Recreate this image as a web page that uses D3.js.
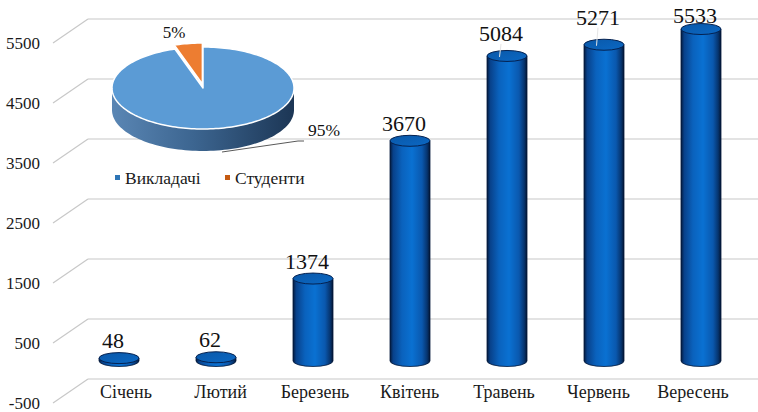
<!DOCTYPE html>
<html><head><meta charset="utf-8">
<script src="https://cdn.jsdelivr.net/npm/d3@7"></script>
</head>
<body style="margin:0;padding:0;background:#fff"><svg id="c" width="758" height="412" style="display:block"></svg>
<script>
// ---- data ----
const categories = ["Січень","Лютий","Березень","Квітень","Травень","Червень","Вересень"];
const values = [48, 62, 1374, 3670, 5084, 5271, 5533];
const tickValues = [-500, 500, 1500, 2500, 3500, 4500, 5500];
const pieLabels = ["Студенти","Викладачі"];
const pieValues = [5, 95];
const pieColors = {"Викладачі":"#5B9BD5","Студенти":"#ED7D31"};
const legendOrder = ["Викладачі","Студенти"];
const legendColors = {"Викладачі":"#2E75B6","Студенти":"#C55A11"};

const FONT = "Liberation Serif";
const svg = d3.select("#c");
const defs = svg.append("defs");
const txt = (sel) => sel.append("text").style("font-family", FONT);

// scales
const yBack = d3.scaleLinear().domain([-500, 5500]).range([379, 19]);
const depthX = -35, depthY = 24;
const midDY = 12;
const x = d3.scalePoint().domain(categories).range([119, 701]);
const xFront = d3.scalePoint().domain(categories).range([126, 693]);

// gridlines
const grid = svg.append("g");
tickValues.forEach(v => {
  const yb = yBack(v);
  grid.append("line").attr("x1", 88).attr("x2", 758).attr("y1", yb).attr("y2", yb)
    .attr("stroke", "#c8c8c8").attr("stroke-width", 1.2);
  grid.append("line").attr("x1", 88).attr("y1", yb).attr("x2", 88 + depthX).attr("y2", yb + depthY)
    .attr("stroke", "#c8c8c8").attr("stroke-width", 1.2);
  txt(svg).attr("x", 40).attr("y", yb + depthY + 6).attr("text-anchor", "end")
    .attr("font-size", 17).attr("fill", "#1a1a1a").text(v);
});

// bar gradient
const bg = defs.append("linearGradient").attr("id", "barG").attr("x1", 0).attr("x2", 1).attr("y1", 0).attr("y2", 0);
[[0,"#041a3c"],[0.08,"#08418a"],[0.3,"#0a62bd"],[0.55,"#0a71d2"],[0.8,"#0a58ae"],[0.93,"#06346e"],[1,"#031532"]]
  .forEach(s => bg.append("stop").attr("offset", s[0]).attr("stop-color", s[1]));
const tg = defs.append("linearGradient").attr("id", "topG").attr("x1", 0).attr("x2", 1).attr("y1", 0).attr("y2", 1);
[[0,"#0a58a8"],[1,"#0b68c4"]].forEach(s => tg.append("stop").attr("offset", s[0]).attr("stop-color", s[1]));

const rx = 20, ry = 5.5;
const y0 = yBack(0) + midDY;
const labelShift = {"Травень": 5, "Червень": 10};
const bars = svg.append("g");
categories.forEach((c, i) => {
  const cx = x(c);
  const top = yBack(values[i]) + midDY;
  bars.append("path")
    .attr("d", `M${cx-rx},${top} L${cx-rx},${y0} A${rx},${ry} 0 0 0 ${cx+rx},${y0} L${cx+rx},${top} Z`)
    .attr("fill", "url(#barG)").attr("stroke", "#03183a").attr("stroke-width", 0.8);
  bars.append("ellipse").attr("cx", cx).attr("cy", top).attr("rx", rx).attr("ry", ry)
    .attr("fill", "url(#topG)").attr("stroke", "#042150").attr("stroke-width", 1);
  const sh = labelShift[c] || 0;
  const base = Math.max(top - 10 - sh, 23);
  txt(svg).attr("x", cx - 6).attr("y", base).attr("text-anchor", "middle")
    .attr("font-size", 22).attr("fill", "#111").text(values[i]);
  if (sh) {
    svg.append("line").attr("x1", cx - 6).attr("y1", base + 3).attr("x2", cx - 7.5).attr("y2", top + 1)
      .attr("stroke", "#e6e6e6").attr("stroke-width", 1);
  }
  txt(svg).attr("x", xFront(c)).attr("y", 398).attr("text-anchor", "middle")
    .attr("font-size", 18).attr("fill", "#1a1a1a").text(c);
});

// ---- 3D pie ----
const pcx = 203, pcy = 88, prx = 91, pry = 41, pdepth = 22;
const pt = (a, dx=0, dy=0) => [pcx + dx + prx*Math.sin(a), pcy + dy - pry*Math.cos(a)];
const pieGen = d3.pie().sort(null).startAngle(-0.05*2*Math.PI).endAngle(0.95*2*Math.PI);
const arcs = pieGen(pieValues);

const sg = defs.append("linearGradient").attr("id", "sideG").attr("x1", 0).attr("x2", 1).attr("y1", 0).attr("y2", 0);
[[0,"#5a86b4"],[0.45,"#3c6590"],[1,"#1c3655"]].forEach(s => sg.append("stop").attr("offset", s[0]).attr("stop-color", s[1]));

const pie = svg.append("g");
const sidePts = [];
const N = 80;
for (let k = 0; k <= N; k++) { const a = Math.PI/2 + Math.PI*k/N; sidePts.push(pt(a)); }
for (let k = N; k >= 0; k--) { const a = Math.PI/2 + Math.PI*k/N; sidePts.push(pt(a, 0, pdepth)); }
pie.append("path").attr("d", d3.line()(sidePts) + "Z").attr("fill", "url(#sideG)");

arcs.forEach((d, i) => {
  const name = pieLabels[i];
  const mid = (d.startAngle + d.endAngle)/2;
  const ex = name === "Студенти" ? 4 : 0;
  const dx = ex*Math.sin(mid), dy = -ex*Math.cos(mid);
  const pts = [[pcx+dx, pcy+dy]];
  const n = Math.max(4, Math.ceil((d.endAngle - d.startAngle)/0.03));
  for (let k = 0; k <= n; k++) pts.push(pt(d.startAngle + (d.endAngle - d.startAngle)*k/n, dx, dy));
  pie.append("path").attr("d", d3.line()(pts) + "Z").attr("fill", pieColors[name])
    .attr("stroke", "#fff").attr("stroke-width", 1.5).attr("stroke-linejoin", "round");
});

txt(pie).attr("x", 174).attr("y", 38).attr("text-anchor", "middle").attr("font-size", 17)
  .attr("fill", "#111").text(pieValues[0] + "%");
pie.append("polyline").attr("points", "222,152 298,141 304,141").attr("fill", "none")
  .attr("stroke", "#595959").attr("stroke-width", 1);
txt(pie).attr("x", 324).attr("y", 136).attr("text-anchor", "middle").attr("font-size", 17.5)
  .attr("fill", "#111").text(pieValues[1] + "%");

// legend
const lg = svg.append("g");
const legX = [115, 225];
legendOrder.forEach((n, i) => {
  lg.append("rect").attr("x", legX[i]).attr("y", 175).attr("width", 5).attr("height", 5).attr("fill", legendColors[n]);
  txt(lg).attr("x", legX[i] + 10).attr("y", 184).attr("font-size", 17.5)
    .attr("fill", "#1a1a1a").text(n);
});
</script></body></html>
